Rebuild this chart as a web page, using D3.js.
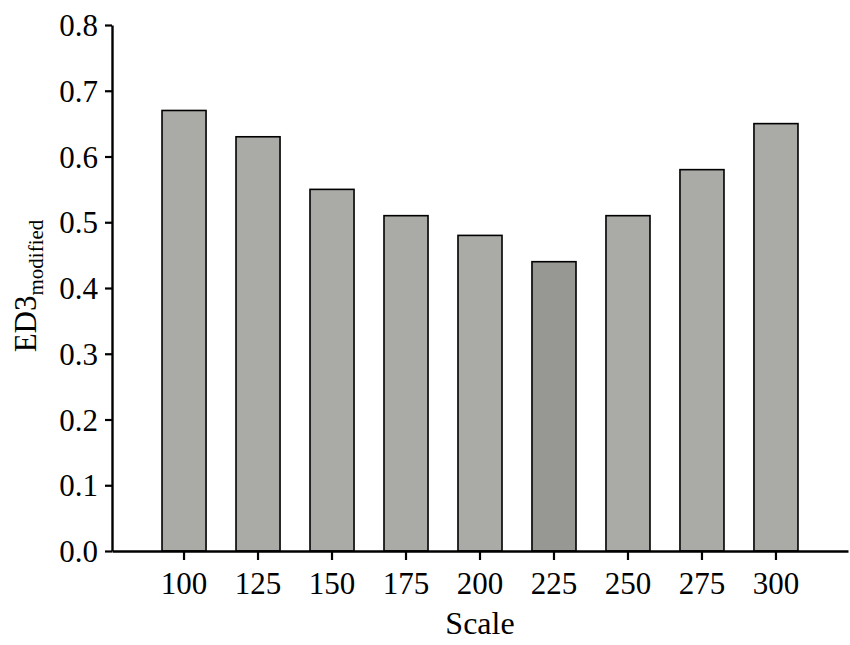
<!DOCTYPE html>
<html>
<head>
<meta charset="utf-8">
<script src="https://cdn.jsdelivr.net/npm/d3@7"></script>
<style>
  body { margin: 0; background: #fff; }
  text { font-family: "Liberation Serif", "Times New Roman", serif; fill: #000; }
</style>
</head>
<body>
<div id="container"></div>
<script>
var scales = ["100", "125", "150", "175", "200", "225", "250", "275", "300"];
var ed3 = [0.67, 0.63, 0.55, 0.51, 0.48, 0.44, 0.51, 0.58, 0.65];
var highlight = ["225"];
var yTicks = [0, 0.1, 0.2, 0.3, 0.4, 0.5, 0.6, 0.7, 0.8];

var W = 850, H = 645;
var plotLeft = 112, plotRight = 848, plotTop = 25, plotBottom = 551;

var svg = d3.select("#container").append("svg")
  .attr("width", W).attr("height", H);

// scales
var xScale = d3.scaleBand()
  .domain(scales)
  .range([plotLeft, plotRight])
  .paddingInner(0.405)
  .paddingOuter(0.676);

var yScale = d3.scaleLinear()
  .domain([0, 0.8])
  .range([plotBottom, plotTop]);

var data = scales.map(function(s, i) { return {scale: s, v: ed3[i]}; });

// bars
svg.selectAll(".bar")
  .data(data)
  .enter().append("rect")
    .attr("class", "bar")
    .attr("x", function(d) { return xScale(d.scale); })
    .attr("y", function(d) { return yScale(d.v); })
    .attr("width", xScale.bandwidth())
    .attr("height", function(d) { return yScale(0) - yScale(d.v); })
    .attr("fill", function(d) { return highlight.indexOf(d.scale) >= 0 ? "#979893" : "#aaaba6"; })
    .attr("stroke", "#000")
    .attr("stroke-width", 1.6);

// y axis
var yAxis = svg.append("g")
  .attr("transform", "translate(" + plotLeft + ",0)")
  .call(d3.axisLeft(yScale).tickValues(yTicks).tickFormat(d3.format(".1f"))
    .tickSizeInner(7).tickSizeOuter(0).tickPadding(7));
yAxis.select(".domain").attr("stroke-width", 2.4);
yAxis.selectAll(".tick line").attr("stroke-width", 2.2);
yAxis.selectAll(".tick text")
  .attr("font-size", "31px")
  .attr("font-family", "Liberation Serif")
  .attr("dy", "0.34em");

// x axis
var xAxis = svg.append("g")
  .attr("transform", "translate(0," + plotBottom + ")")
  .call(d3.axisBottom(xScale).tickSizeInner(9).tickSizeOuter(0).tickPadding(12));
xAxis.select(".domain").attr("stroke-width", 2.4);
xAxis.selectAll(".tick line").attr("stroke-width", 2.2);
xAxis.selectAll(".tick text")
  .attr("font-size", "31px")
  .attr("font-family", "Liberation Serif")
  .attr("dy", "0.71em");

// axis titles
svg.append("text")
  .attr("x", (plotLeft + plotRight) / 2)
  .attr("y", 634)
  .attr("text-anchor", "middle")
  .attr("font-size", "32px")
  .text("Scale");

var yl = svg.append("text")
  .attr("transform", "translate(36,286) rotate(-90)")
  .attr("text-anchor", "middle")
  .attr("font-size", "31px");
yl.append("tspan").text("ED3");
yl.append("tspan").attr("font-size", "21px").attr("dy", "7").text("modified");
</script>
</body>
</html>
